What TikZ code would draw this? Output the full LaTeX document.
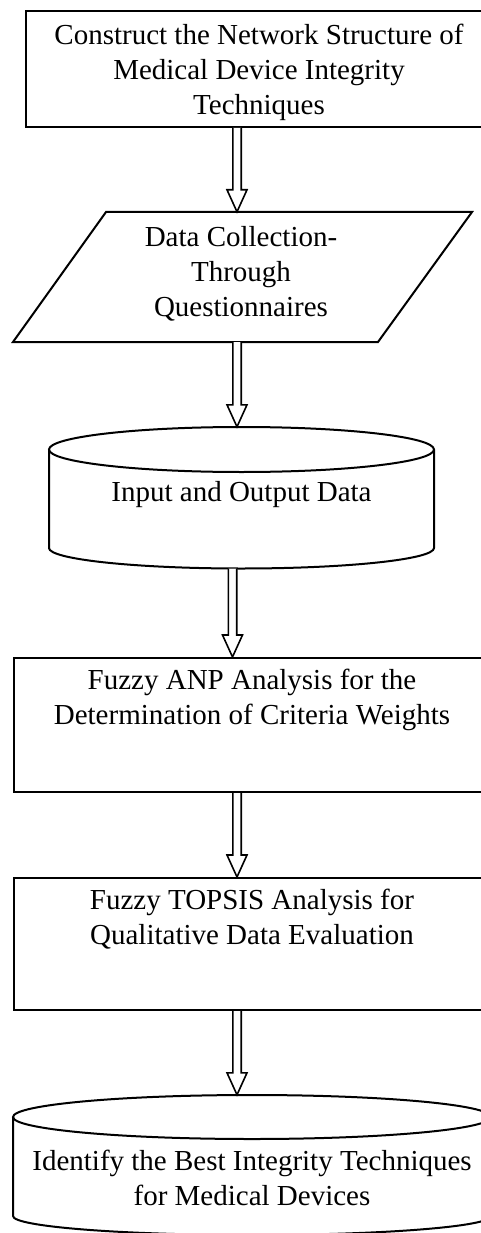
\documentclass[tikz,border=0pt]{standalone}
\usepackage{fontspec}
\setmainfont{Liberation Serif}
\usetikzlibrary{calc}

\tikzset{
  frame/.style={draw, line width=2pt, inner sep=0pt, fill=white},
  outline/.style={draw, line width=2pt, line join=miter},
  ghost/.style={inner sep=0pt, draw=none},
  caption/.style={align=center, inner sep=0pt,
    font=\fontsize{29}{35}\selectfont},
  harrow/.style={draw, line width=1.6pt, fill=white, line join=miter}
}

% hollow block arrow: #1 = x of the shaft, #2 = start anchor, #3 = tip anchor
\newcommand\hollowarrow[3]{%
  \draw[harrow] let \p1=(#2), \p2=(#3) in
    (#1pt-4.2pt,\y1) -- (#1pt-4.2pt,\y2+22pt) -- (#1pt-10pt,\y2+22pt) --
    (#1pt,\y2) -- (#1pt+10pt,\y2+22pt) -- (#1pt+4.2pt,\y2+22pt) --
    (#1pt+4.2pt,\y1);}

\begin{document}
\begin{tikzpicture}[x=1pt,y=1pt]
\useasboundingbox (0,0) rectangle (481,-1233);
\clip (0,0) rectangle (481,-1233);

% step 1: network structure
\node[frame, minimum width=468, minimum height=116, anchor=north west]
  (structure) at (25,-10) {};
\node[caption] (structure-t) at (259,-72)
  {Construct the Network Structure of\\Medical Device Integrity\\Techniques};

% step 2: data collection (parallelogram)
\draw[outline] (106,-212) -- (472,-212) -- (378,-342) -- (13,-342) -- cycle;
\node[ghost, minimum width=366, minimum height=130] (collect) at (242.25,-277) {};
\node[caption] (collect-t) at (241,-274)
  {Data Collection-\\Through\\Questionnaires};

% step 3: input and output data (cylinder)
\node[ghost, minimum width=385, minimum height=141.5] (iodata) at (241.5,-497.75) {};
\draw[outline] (49,-449.5) -- (49,-548)
  .. controls (49,-559.3) and (135.2,-568.5) .. (241.5,-568.5)
  .. controls (347.8,-568.5) and (434,-559.3) .. (434,-548)
  -- (434,-449.5);
\draw[outline] (241.5,-449.5) ellipse [x radius=192.5, y radius=22.5];
\node[caption] (iodata-t) at (241.5,-495) {Input and Output Data};

% step 4: fuzzy ANP
\node[frame, minimum width=478, minimum height=134, anchor=north west]
  (anp) at (13,-657) {};
\node[caption] (anp-t) at (252,-700)
  {Fuzzy ANP Analysis for the\\Determination of Criteria Weights};

% step 5: fuzzy TOPSIS
\node[frame, minimum width=478, minimum height=132, anchor=north west]
  (topsis) at (13,-877) {};
\node[caption] (topsis-t) at (252,-919.5)
  {Fuzzy TOPSIS Analysis for\\Qualitative Data Evaluation};

% step 6: best techniques (cylinder)
\node[ghost, minimum width=478, minimum height=142] (best) at (252,-1166) {};
\draw[outline] (13,-1117) -- (13,-1216)
  .. controls (13,-1226.5) and (120,-1235) .. (252,-1235)
  .. controls (384,-1235) and (491,-1226.5) .. (491,-1216)
  -- (491,-1117);
\draw[outline] (252,-1117) ellipse [x radius=239, y radius=22];
\node[caption] (best-t) at (252,-1177.5)
  {Identify the Best Integrity Techniques\\for Medical Devices};

% connectors
\hollowarrow{237}{structure.south}{collect.north}
\hollowarrow{237}{collect.south}{iodata.north}
\hollowarrow{232.5}{iodata.south}{anp.north}
\hollowarrow{237}{anp.south}{topsis.north}
\hollowarrow{237}{topsis.south}{best.north}
\end{tikzpicture}
\end{document}
